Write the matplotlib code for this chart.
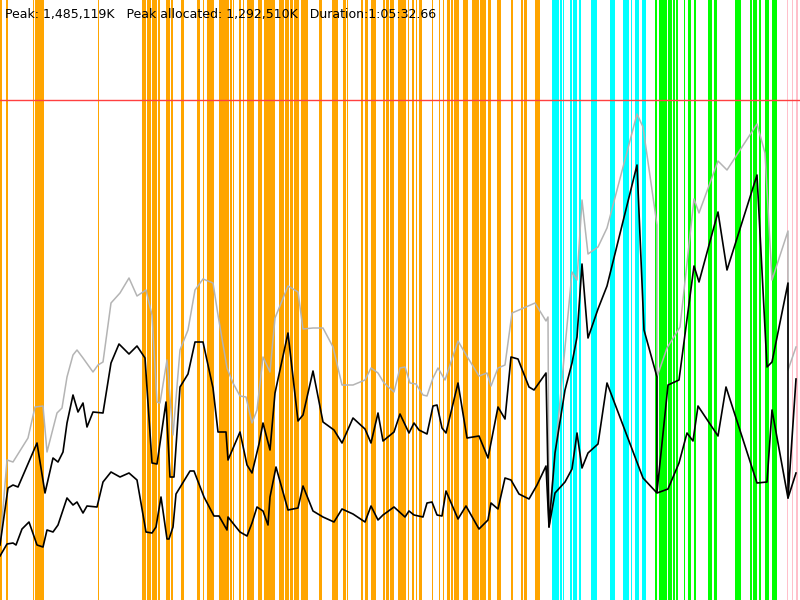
import matplotlib
matplotlib.use("Agg")
import matplotlib.pyplot as plt

# header figures
peak_text = "Peak: 1,485,119K"
alloc_text = "Peak allocated: 1,292,510K"
duration_text = "Duration:1:05:32.66"

# time axis runs 0..800 (samples), heap axis 0..600 (scaled)
heap_limit = 500

# phase markers as (start, end) in time units
orange_spans = [(0, 2), (6, 7.5), (33, 34), (35, 37.5), (38, 44), (97.5, 98.5),
                (142, 146), (147, 151), (152, 157), (157.5, 160), (165.5, 166.5),
                (167, 170), (171, 173), (181, 184), (197, 200), (202.5, 203.5),
                (207, 214), (219, 229), (230, 232), (232.5, 233.5), (239, 241),
                (242.5, 244), (247, 254), (258, 262), (264, 275), (279, 284),
                (285, 289), (290, 293), (294, 299), (301, 308), (319, 322),
                (332, 338), (343, 346), (346.5, 348), (361, 363), (365, 368),
                (371, 376), (383, 385), (386, 389), (390, 394), (398, 406),
                (408, 409), (412, 414), (416, 417), (419, 422), (432, 433),
                (439, 440), (443, 444), (447, 450), (451, 453), (454, 459),
                (463, 468), (472, 479), (480, 486), (488, 491), (497, 501),
                (511, 513), (521, 523), (524, 527), (535, 540)]
cyan_spans = [(552, 559), (560, 562), (563, 564), (570, 572), (573, 577),
              (579, 581), (591, 597), (610, 615), (623, 629), (630.5, 631.5),
              (635, 639), (642, 646)]
green_spans = [(655, 657), (659, 667), (667.5, 672), (672.5, 675), (676, 678),
               (684, 685), (688, 691), (694, 696), (708, 712), (714, 717),
               (735, 741), (750, 752), (753, 757), (759, 761), (765, 769),
               (772, 777)]
pink_spans = [(787, 788), (792, 793), (796, 798)]

# heap series
gray_t = [0, 7, 13, 28, 35, 43, 47, 57, 62, 67, 73, 77, 83, 93, 98, 103, 111,
          120, 129, 137, 146, 152, 157, 160, 167, 173, 180, 188, 195, 203, 213,
          218, 227, 233, 240, 246, 252, 257, 263, 270, 275, 288, 298, 303, 313,
          323, 333, 342, 353, 365, 371, 378, 384, 394, 400, 405, 410, 416, 423,
          427, 433, 438, 445, 458, 468, 479, 487, 491, 498, 505, 512, 519, 535,
          546, 548, 549, 572, 577, 582, 588, 598, 607, 637, 643, 657, 657, 667,
          680, 694, 699, 718, 727, 757, 765, 772, 788, 788, 796]
gray_v = [55, 140, 138, 162, 193, 194, 148, 187, 192, 223, 245, 250, 242, 228,
          235, 238, 297, 307, 322, 304, 310, 285, 198, 197, 240, 165, 250, 270,
          310, 321, 317, 285, 232, 217, 204, 203, 177, 190, 243, 228, 282, 314,
          308, 271, 272, 272, 253, 215, 215, 220, 232, 227, 217, 208, 232, 233,
          217, 216, 205, 204, 222, 232, 220, 259, 242, 224, 227, 214, 232, 235,
          287, 290, 297, 279, 283, 80, 328, 320, 400, 346, 353, 372, 486, 473,
          375, 223, 252, 273, 401, 387, 439, 430, 476, 447, 320, 369, 230, 253]

upper_t = [0, 8, 13, 18, 37, 45, 53, 58, 63, 67, 73, 78, 83, 87, 93, 103, 111,
           119, 129, 137, 145, 152, 157, 166, 170, 174, 180, 188, 195, 203, 213,
           218, 226, 228, 240, 247, 252, 259, 263, 270, 275, 288, 298, 303, 313,
           323, 334, 342, 353, 365, 371, 378, 383, 394, 400, 409, 414, 419, 427,
           433, 437, 442, 446, 458, 467, 479, 488, 498, 505, 511, 518, 529, 534,
           546, 549, 555, 565, 572, 577, 582, 588, 598, 607, 637, 644, 657, 657,
           668, 679, 694, 699, 718, 727, 757, 767, 772, 788, 788, 796]
upper_v = [55, 112, 115, 113, 157, 107, 142, 138, 148, 177, 205, 188, 197, 173,
           188, 187, 237, 256, 246, 254, 242, 137, 136, 198, 123, 123, 213, 226,
           258, 258, 212, 168, 168, 140, 168, 135, 127, 156, 177, 150, 207, 267,
           179, 185, 229, 178, 170, 157, 182, 171, 157, 187, 159, 168, 186, 167,
           177, 170, 166, 194, 195, 172, 167, 217, 162, 164, 142, 193, 181, 243,
           241, 213, 210, 227, 73, 147, 210, 237, 263, 336, 262, 291, 314, 435,
           270, 223, 108, 215, 220, 334, 318, 388, 330, 425, 233, 238, 317, 102,
           221]

lower_t = [0, 7, 13, 16, 22, 29, 37, 43, 47, 53, 58, 67, 73, 77, 83, 87, 97,
           103, 111, 120, 129, 137, 146, 152, 156, 161, 167, 169, 173, 176, 190,
           194, 204, 214, 219, 227, 228, 240, 247, 252, 257, 263, 268, 270, 276,
           288, 298, 303, 313, 323, 334, 342, 353, 365, 371, 378, 383, 394, 405,
           409, 414, 423, 427, 432, 437, 442, 446, 458, 466, 479, 488, 491, 498,
           505, 511, 519, 529, 537, 546, 549, 555, 565, 572, 577, 582, 588, 598,
           607, 643, 657, 668, 679, 687, 693, 698, 718, 726, 757, 767, 772, 788,
           796]
lower_v = [44, 56, 57, 55, 71, 78, 55, 53, 70, 68, 75, 102, 95, 98, 87, 94, 93,
           118, 128, 123, 127, 120, 68, 67, 73, 103, 61, 61, 73, 106, 129, 129,
           103, 84, 84, 70, 83, 68, 64, 77, 93, 89, 75, 103, 133, 90, 92, 114,
           89, 83, 78, 91, 86, 78, 94, 80, 85, 93, 83, 89, 85, 83, 97, 98, 85,
           84, 109, 81, 94, 71, 80, 97, 91, 122, 120, 106, 101, 115, 134, 73,
           107, 118, 131, 167, 132, 147, 156, 217, 122, 107, 111, 137, 167, 159,
           194, 164, 213, 117, 118, 190, 102, 127]

fig = plt.figure(figsize=(8, 6), dpi=100)
ax = fig.add_axes([0, 0, 1, 1])
ax.set_xlim(0, 800)
ax.set_ylim(0, 600)
ax.axis("off")

for spans, color in [(orange_spans, "#ffa500"), (cyan_spans, "#00ffff"),
                     (green_spans, "#00ff00"), (pink_spans, "#ffc0cb")]:
    for a, b in spans:
        ax.axvspan(a, b, color=color, lw=0)

ax.axhline(heap_limit, color="#ff4040", lw=1)

ax.plot(gray_t, gray_v, color="#b4b4b4", lw=1.1)
ax.plot(upper_t, upper_v, color="black", lw=1.2)
ax.plot(lower_t, lower_v, color="black", lw=1.2)

fig.text(5 / 800, 1 - 18 / 600,
         peak_text + "   " + alloc_text + "   " + duration_text,
         fontsize=9, family="DejaVu Sans", color="black")

fig.savefig("out.png", dpi=100)
